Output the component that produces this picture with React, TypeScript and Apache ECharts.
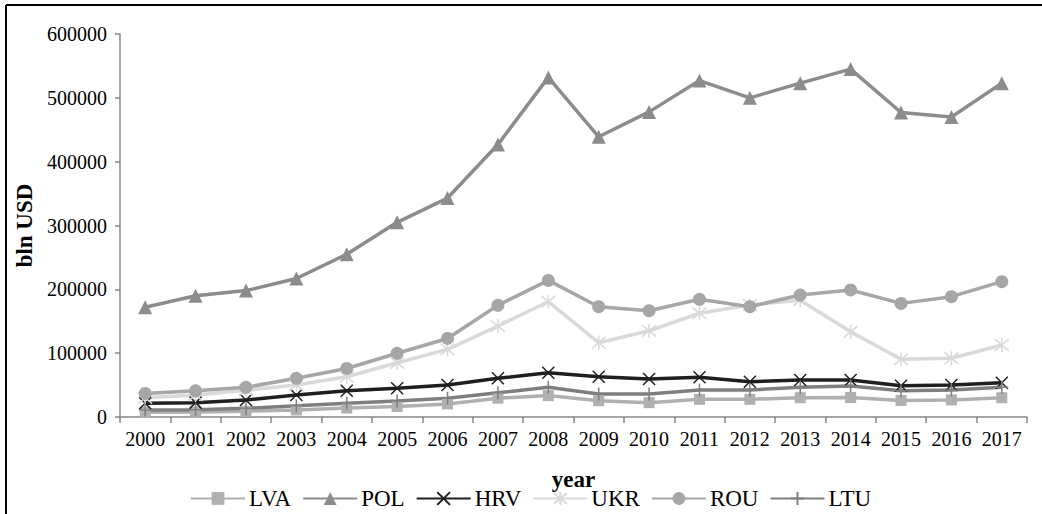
import React, { useEffect, useRef } from "react";
import * as echarts from "echarts";

const years = ["2000","2001","2002","2003","2004","2005","2006","2007","2008","2009","2010","2011","2012","2013","2014","2015","2016","2017"];
const lva = [7500, 7800, 9000, 11000, 14000, 16500, 20500, 29500, 33500, 25500, 22500, 27700, 27700, 30200, 30500, 26000, 26800, 30200];
const pol = [172000, 190000, 198000, 217000, 255000, 305000, 343000, 427000, 532000, 439000, 478000, 527000, 500000, 523000, 545000, 477000, 470000, 523000];
const hrv = [21400, 22500, 26600, 34500, 41200, 45000, 50000, 60600, 69400, 63100, 59500, 62200, 55300, 58000, 58000, 49000, 50100, 53800];
const ukr = [30000, 34500, 42000, 50000, 63000, 85000, 106000, 142500, 180600, 116400, 135000, 162500, 175500, 183000, 133600, 90400, 92000, 112800];
const rou = [37000, 41000, 46500, 60600, 76000, 99800, 123000, 175000, 214000, 172800, 166500, 184400, 172800, 191000, 199000, 178000, 188500, 212000];
const ltu = [11000, 11500, 13600, 17700, 21400, 25000, 29300, 38000, 46500, 36000, 36000, 42300, 42300, 46500, 48600, 41200, 42300, 46500];
const yTicks = [0, 100000, 200000, 300000, 400000, 500000, 600000];

const FONT = "'Liberation Serif', 'Times New Roman', serif";

const X_PATH = "path://M0,0L10,10M10,0L0,10";
const STAR_PATH = "path://M0,0L10,10M10,0L0,10M5,-1L5,11";
const PLUS_PATH = "path://M5,0L5,10M0,5L10,5";

function mk(name: string, data: number[], color: string, symbol: string, size: number, stroke: boolean) {
  return {
    name,
    type: "line",
    data,
    symbol,
    symbolSize: size,
    showSymbol: true,
    lineStyle: { color, width: 3.5 },
    itemStyle: stroke
      ? { color, borderColor: color, borderWidth: 1.5 }
      : { color, borderWidth: 0 },
    emphasis: { disabled: true },
  };
}

export default function App() {
  const ref = useRef<HTMLDivElement>(null);
  useEffect(() => {
    if (!ref.current) return;
    const chart = echarts.init(ref.current, undefined, { renderer: "svg" });
    chart.setOption({
      animation: false,
      backgroundColor: "#ffffff",
      textStyle: { fontFamily: FONT },
      grid: { left: 120, right: 15, top: 34, bottom: 97, containLabel: false },
      xAxis: {
        type: "category",
        data: years,
        boundaryGap: true,
        name: "year",
        nameLocation: "middle",
        nameGap: 51,
        nameTextStyle: { fontFamily: FONT, fontSize: 23, fontWeight: "bold", color: "#000" },
        axisLine: { lineStyle: { color: "#878787", width: 1.5 } },
        axisTick: { show: true, length: 6, alignWithLabel: false, lineStyle: { color: "#878787", width: 1.5 } },
        axisLabel: { interval: 0, fontFamily: FONT, fontSize: 20, color: "#000", margin: 12 },
        splitLine: { show: false },
      },
      yAxis: {
        type: "value",
        min: 0,
        max: yTicks[yTicks.length - 1],
        interval: yTicks[1] - yTicks[0],
        name: "bln USD",
        nameLocation: "middle",
        nameGap: 83,
        nameRotate: 90,
        nameTextStyle: { fontFamily: FONT, fontSize: 23, fontWeight: "bold", color: "#000" },
        axisLine: { show: true, lineStyle: { color: "#878787", width: 1.5 } },
        axisTick: { show: true, length: 5, lineStyle: { color: "#878787", width: 1.5 } },
        axisLabel: { fontFamily: FONT, fontSize: 20, color: "#000", margin: 13, formatter: (v: number) => String(v) },
        splitLine: { show: false },
      },
      legend: {
        top: 482,
        left: 185,
        itemWidth: 54,
        itemHeight: 16,
        itemGap: 11,
        textStyle: { fontFamily: FONT, fontSize: 23, color: "#000", padding: [0, 0, 0, -1] },
        data: ["LVA", "POL", "HRV", "UKR", "ROU", "LTU"],
      },
      graphic: [
        { type: "line", shape: { x1: 6, y1: 5, x2: 1042, y2: 5 }, style: { stroke: "#000", lineWidth: 2 } },
        { type: "line", shape: { x1: 6, y1: 5, x2: 6, y2: 514 }, style: { stroke: "#000", lineWidth: 2 } },
      ],
      series: [
        mk("LVA", lva, "#b0b0b0", "rect", 11, false),
        mk("POL", pol, "#8c8c8c", "triangle", 14, false),
        mk("HRV", hrv, "#1f1f1f", X_PATH, 12, true),
        mk("UKR", ukr, "#d9d9d9", STAR_PATH, 14, true),
        mk("ROU", rou, "#a6a6a6", "circle", 13, false),
        mk("LTU", ltu, "#7f7f7f", PLUS_PATH, 13, true),
      ],
    });
    return () => chart.dispose();
  }, []);
  return <div ref={ref} style={{ position: "fixed", left: 0, top: 0, width: 1042, height: 514 }} />;
}
